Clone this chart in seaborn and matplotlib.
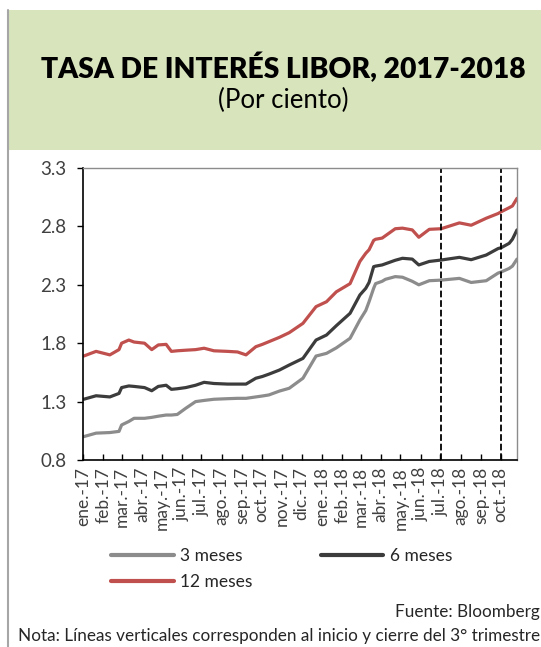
import matplotlib
matplotlib.use("Agg")
import matplotlib.pyplot as plt
from matplotlib.patches import Rectangle
from matplotlib.lines import Line2D
import seaborn as sns
import pandas as pd

# datos (LIBOR, por ciento)
dates = ["2017-01-02", "2017-01-21", "2017-02-11", "2017-02-25", "2017-03-01",
         "2017-03-12", "2017-03-20", "2017-04-05", "2017-04-16", "2017-04-26",
         "2017-05-08", "2017-05-16", "2017-05-25", "2017-06-07", "2017-06-22",
         "2017-07-05", "2017-07-20", "2017-08-10", "2017-08-25", "2017-09-07",
         "2017-09-22", "2017-10-02", "2017-10-12", "2017-10-28", "2017-11-12",
         "2017-12-03", "2017-12-23", "2018-01-08", "2018-01-23", "2018-02-13",
         "2018-02-28", "2018-03-09", "2018-03-14", "2018-03-21", "2018-03-24",
         "2018-04-03", "2018-04-08", "2018-04-23", "2018-05-04", "2018-05-19",
         "2018-05-29", "2018-06-14", "2018-07-02", "2018-07-30", "2018-08-17",
         "2018-09-09", "2018-09-27", "2018-10-02", "2018-10-14", "2018-10-19",
         "2018-10-26"]

meses_3 = [1.00, 1.03, 1.035, 1.045, 1.10, 1.13, 1.157, 1.157, 1.165, 1.175,
           1.185, 1.185, 1.19, 1.243, 1.30, 1.31, 1.32, 1.325, 1.328, 1.328,
           1.34, 1.348, 1.357, 1.39, 1.414, 1.50, 1.69, 1.713, 1.76, 1.842,
           1.999, 2.08, 2.155, 2.27, 2.31, 2.33, 2.347, 2.37, 2.365, 2.33,
           2.30, 2.335, 2.34, 2.355, 2.32, 2.335, 2.40, 2.41, 2.44, 2.46,
           2.52]

meses_6 = [1.32, 1.35, 1.34, 1.37, 1.42, 1.434, 1.43, 1.42, 1.393, 1.43,
           1.44, 1.405, 1.41, 1.42, 1.44, 1.465, 1.455, 1.45, 1.45, 1.45,
           1.50, 1.515, 1.535, 1.57, 1.613, 1.67, 1.827, 1.87, 1.95, 2.056,
           2.213, 2.27, 2.32, 2.455, 2.46, 2.47, 2.48, 2.51, 2.527, 2.52,
           2.47, 2.50, 2.512, 2.535, 2.515, 2.555, 2.61, 2.618, 2.655, 2.69,
           2.77]

meses_12 = [1.69, 1.73, 1.70, 1.745, 1.80, 1.827, 1.81, 1.80, 1.745, 1.785,
            1.79, 1.73, 1.735, 1.74, 1.745, 1.757, 1.735, 1.73, 1.725, 1.70,
            1.77, 1.79, 1.813, 1.85, 1.89, 1.97, 2.113, 2.155, 2.24, 2.31,
            2.50, 2.57, 2.60, 2.68, 2.69, 2.70, 2.72, 2.78, 2.785, 2.77,
            2.707, 2.775, 2.78, 2.83, 2.81, 2.87, 2.91, 2.926, 2.96, 2.975,
            3.04]

series_names = ["3 meses", "6 meses", "12 meses"]
colors = ["#8c8c8c", "#3c3c3c", "#c0504d"]

month_labels = ["ene.-17", "feb.-17", "mar.-17", "abr.-17", "may.-17", "jun.-17",
                "jul.-17", "ago.-17", "sep.-17", "oct.-17", "nov.-17", "dic.-17",
                "ene.-18", "feb.-18", "mar.-18", "abr.-18", "may.-18", "jun.-18",
                "jul.-18", "ago.-18", "sep.-18", "oct.-18"]
y_ticks = [0.8, 1.3, 1.8, 2.3, 2.8, 3.3]
quarter_lines = ["2018-07-02", "2018-10-01"]

df = pd.DataFrame({"fecha": pd.to_datetime(dates), "3 meses": meses_3,
                   "6 meses": meses_6, "12 meses": meses_12})
long_df = df.melt(id_vars="fecha", var_name="plazo", value_name="tasa")

sns.set_style("white")
plt.rcParams["font.family"] = ["Lato", "DejaVu Sans"]

fig = plt.figure(figsize=(5.41, 6.47), dpi=100)

# encabezado verde y borde izquierdo
fig.patches.append(Rectangle((8 / 541, 1 - 150 / 647), 1 - 8 / 541, 140 / 647,
                             transform=fig.transFigure, facecolor="#d8e4bc",
                             edgecolor="none", zorder=0))
fig.lines.append(Line2D([8 / 541, 8 / 541], [0, 1 - 10 / 647], transform=fig.transFigure,
                        color="#a6a6a6", lw=1.5))

fig.text(0.523, 1 - 68 / 647, "TASA DE INTERÉS LIBOR, 2017-2018", ha="center",
         va="center", fontsize=20.3, fontweight="heavy", color="black")
fig.text(0.523, 1 - 100 / 647, "(Por ciento)", ha="center", va="center",
         fontsize=18.5, color="black")

ax = fig.add_axes([83 / 541, 1 - 460 / 647, 434 / 541, 292 / 647])
sns.lineplot(data=long_df, x="fecha", y="tasa", hue="plazo", hue_order=series_names,
             palette=colors, lw=2.3, ax=ax, legend=False)

for d in quarter_lines:
    ax.axvline(pd.Timestamp(d), color="black", ls="--", lw=1.3)

ax.set_xlim(pd.Timestamp("2017-01-01"), pd.Timestamp(dates[-1]))
ax.set_ylim(0.8, 3.3)
ax.set_yticks(y_ticks)
ax.set_yticklabels([f"{v:.1f}" for v in y_ticks])
ticks = pd.date_range("2017-01-01", "2018-10-01", freq="MS")
ax.set_xticks(ticks)
ax.set_xticklabels(month_labels, rotation=90)
ax.set_xlabel("")
ax.set_ylabel("")
ax.tick_params(axis="x", direction="in", length=4, width=1, colors="black",
               labelcolor="#404040", labelsize=12.5, pad=5, bottom=True)
ax.tick_params(axis="y", direction="out", length=4, width=1, colors="black",
               labelcolor="#404040", labelsize=13.5, pad=8, left=True)
for s in ["left", "bottom"]:
    ax.spines[s].set_color("black")
    ax.spines[s].set_linewidth(1.2)
for s in ["top", "right"]:
    ax.spines[s].set_color("#8c8c8c")
    ax.spines[s].set_linewidth(1.0)

# leyenda (orden por columnas para que quede 3m, 6m / 12m)
handles = [Line2D([], [], color=c, lw=3) for c in colors]
order = [0, 2, 1]
fig.legend([handles[i] for i in order], [series_names[i] for i in order],
           loc="upper left", bbox_to_anchor=(111 / 541, 1 - 548 / 647), ncol=2,
           frameon=False, fontsize=12.5, handlelength=3.6, handletextpad=0.4,
           columnspacing=3.9, labelspacing=0.6, borderpad=0, borderaxespad=0,
           labelcolor="#262626")

fig.text(0.998, 1 - 612 / 647, "Fuente: Bloomberg", ha="right", va="center",
         fontsize=12.3, color="#262626")
fig.text(0.998, 1 - 636 / 647,
         "Nota: Líneas verticales corresponden al inicio y cierre del 3° trimestre",
         ha="right", va="center", fontsize=12.3, color="#262626")

fig.savefig("out.png", dpi=100)
